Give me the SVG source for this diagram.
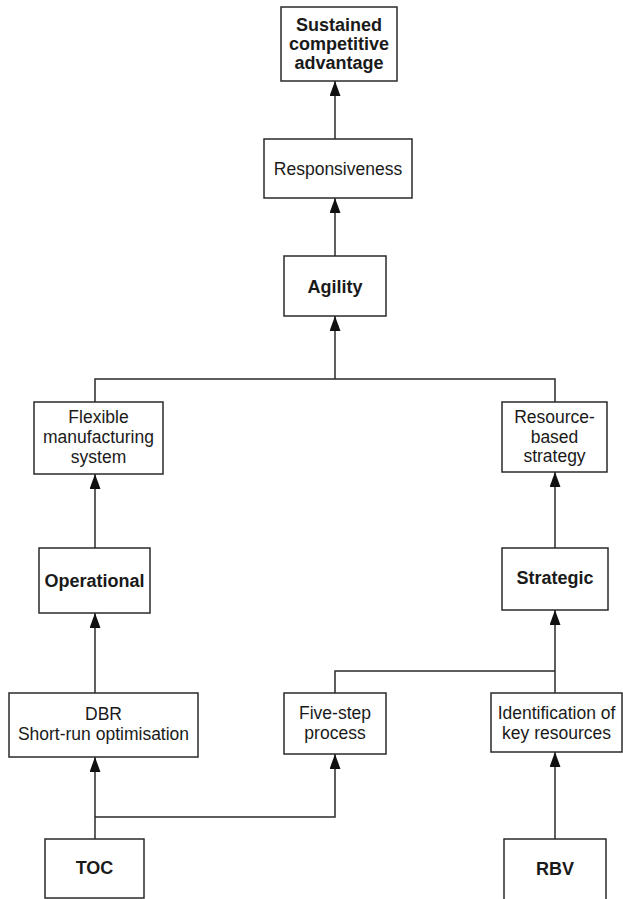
<svg xmlns="http://www.w3.org/2000/svg" width="623" height="899" viewBox="0 0 623 899">
<style>
.box{fill:#fff;stroke:#2a2a2a;stroke-width:1.5}
.t{font-family:"Liberation Sans",Arial,sans-serif;font-size:17.5px;fill:#1a1a1a;text-anchor:middle}
.b{font-weight:bold;font-size:18px}
.c{fill:none;stroke:#2a2a2a;stroke-width:1.5}
</style>
<defs>
<marker id="ah" markerUnits="userSpaceOnUse" markerWidth="15" markerHeight="11" refX="15" refY="5.5" orient="auto">
<path d="M0,0 L15,5.5 L0,11 z" fill="#111"/>
</marker>
</defs>
<rect width="623" height="899" fill="#fff"/>
<g id="connectors">
<line class="c" x1="335" y1="139" x2="335" y2="81" marker-end="url(#ah)"/>
<line class="c" x1="335" y1="256" x2="335" y2="198" marker-end="url(#ah)"/>
<polyline class="c" points="95,402 95,379 555,379 555,402"/>
<line class="c" x1="335" y1="379" x2="335" y2="316" marker-end="url(#ah)"/>
<line class="c" x1="95" y1="548" x2="95" y2="474" marker-end="url(#ah)"/>
<line class="c" x1="95" y1="693" x2="95" y2="613" marker-end="url(#ah)"/>
<line class="c" x1="555" y1="548" x2="555" y2="472" marker-end="url(#ah)"/>
<polyline class="c" points="335,693 335,671 555,671"/>
<line class="c" x1="555" y1="693" x2="555" y2="610" marker-end="url(#ah)"/>
<line class="c" x1="95" y1="839" x2="95" y2="757" marker-end="url(#ah)"/>
<polyline class="c" points="95,817 335,817 335,754" marker-end="url(#ah)"/>
<line class="c" x1="555" y1="839" x2="555" y2="752" marker-end="url(#ah)"/>
</g>
<g id="sca">
<rect class="box" x="281" y="7" width="116" height="74"/>
<text class="t b" x="339" y="30.5">Sustained</text>
<text class="t b" x="339" y="50">competitive</text>
<text class="t b" x="339" y="69">advantage</text>
</g>
<g id="responsiveness">
<rect class="box" x="264" y="139" width="148" height="59"/>
<text class="t" x="338" y="175">Responsiveness</text>
</g>
<g id="agility">
<rect class="box" x="284" y="256" width="102" height="60"/>
<text class="t b" x="335" y="293">Agility</text>
</g>
<g id="fms">
<rect class="box" x="34" y="402" width="129" height="72"/>
<text class="t" x="98.5" y="423">Flexible</text>
<text class="t" x="98.5" y="443">manufacturing</text>
<text class="t" x="98.5" y="463">system</text>
</g>
<g id="rbs">
<rect class="box" x="502" y="402" width="105" height="70"/>
<text class="t" x="554.5" y="423">Resource-</text>
<text class="t" x="554.5" y="443">based</text>
<text class="t" x="554.5" y="462">strategy</text>
</g>
<g id="operational">
<rect class="box" x="39" y="548" width="111" height="65"/>
<text class="t b" x="94.5" y="587">Operational</text>
</g>
<g id="strategic">
<rect class="box" x="502" y="548" width="106" height="62"/>
<text class="t b" x="555" y="584">Strategic</text>
</g>
<g id="dbr">
<rect class="box" x="9" y="693" width="189" height="64"/>
<text class="t" x="103.5" y="720">DBR</text>
<text class="t" x="103.5" y="740">Short-run optimisation</text>
</g>
<g id="fivestep">
<rect class="box" x="284" y="693" width="102" height="61"/>
<text class="t" x="335" y="719">Five-step</text>
<text class="t" x="335" y="739">process</text>
</g>
<g id="ident">
<rect class="box" x="491" y="693" width="131" height="59"/>
<text class="t" x="556.5" y="719">Identification of</text>
<text class="t" x="556.5" y="739">key resources</text>
</g>
<g id="toc">
<rect class="box" x="45" y="839" width="99" height="59"/>
<text class="t b" x="94.5" y="874">TOC</text>
</g>
<g id="rbv">
<rect class="box" x="504" y="839" width="102" height="70"/>
<text class="t b" x="555" y="875">RBV</text>
</g>
</svg>
